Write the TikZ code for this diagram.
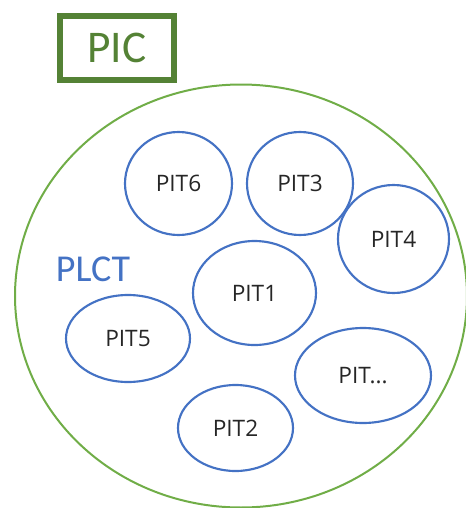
\documentclass[tikz,border=0pt]{standalone}
\usepackage{fontspec}
\setmainfont{Carlito}
\newfontfamily\itemfont{Open Sans}
\usetikzlibrary{shapes.geometric}
\definecolor{picgreen}{HTML}{548235}
\definecolor{ringgreen}{HTML}{70AD47}
\definecolor{pitblue}{HTML}{4472C4}
\definecolor{pittext}{HTML}{262626}
\begin{document}
\begin{tikzpicture}[x=0.75pt,y=-0.75pt,
  pit/.style={ellipse,draw=pitblue,line width=1.6pt,inner sep=0pt,
    text=pittext,font=\itemfont\fontsize{17}{20}\selectfont},
  group/.style={ellipse,draw=ringgreen,line width=1.5pt,inner sep=0pt},
  title/.style={draw=picgreen,line width=4.8pt,inner sep=0pt,
    text=picgreen,font=\fontsize{34}{38}\selectfont}]
  \useasboundingbox (0,0) rectangle (466,508);
  % outer grouping circle and its label
  \node[group,minimum width=452*0.75pt,minimum height=423*0.75pt] (plct) at (241,296) {};
  \node[text=pitblue,font=\fontsize{28.5}{32}\selectfont] (plctlabel) at (93,269) {PLCT};
  % framed title
  \node[title,minimum width=114*0.75pt,minimum height=64*0.75pt] (pic) at (117,48) {PIC};
  % member items
  \node[pit,minimum width=107*0.75pt,minimum height=103*0.75pt] (pit6) at (178.5,183.5) {PIT6};
  \node[pit,minimum width=106*0.75pt,minimum height=103*0.75pt] (pit3) at (300,183.5) {PIT3};
  \node[pit,minimum width=111*0.75pt,minimum height=108*0.75pt] (pit4) at (393.5,239) {PIT4};
  \node[pit,minimum width=123*0.75pt,minimum height=104*0.75pt] (pit1) at (254.5,293) {PIT1};
  \node[pit,minimum width=124*0.75pt,minimum height=87*0.75pt] (pit5) at (128,338.5) {PIT5};
  \node[pit,minimum width=136*0.75pt,minimum height=95*0.75pt] (pitn) at (363,375.5) {PIT...};
  \node[pit,minimum width=115*0.75pt,minimum height=86*0.75pt] (pit2) at (235.5,428) {PIT2};
\end{tikzpicture}
\end{document}
